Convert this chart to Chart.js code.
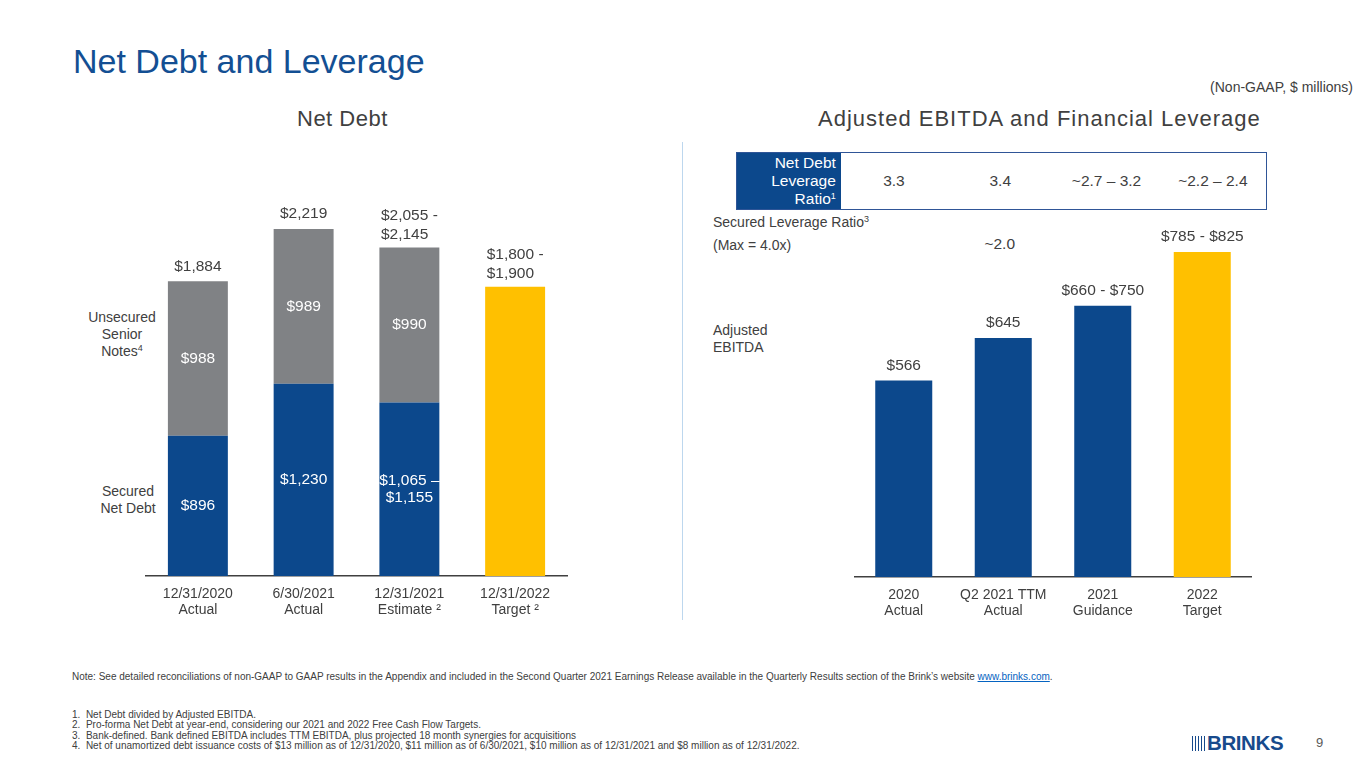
<!DOCTYPE html>
<html lang="en">

<head>
    <meta charset="UTF-8">
    <title>Net Debt and Leverage</title>
    <script src="https://cdn.jsdelivr.net/npm/chart.js@4.4.1/dist/chart.umd.min.js"></script>
    <style>
        body {
            margin: 0;
            background: #fff;
            font-family: "Liberation Sans", Arial, sans-serif;
            color: #404040;
        }

        .slide {
            position: relative;
            width: 1365px;
            height: 768px;
            overflow: hidden;
        }

        .abs {
            position: absolute;
            white-space: nowrap;
        }

        .titulo {
            left: 73px;
            top: 41px;
            font-size: 34px;
            line-height: 40px;
            color: #134f93;
        }

        .subtitulo {
            top: 106px;
            font-size: 22px;
            line-height: 26px;
            color: #404040;
        }

        .lado {
            font-size: 14px;
            line-height: 17.2px;
        }

        sup {
            font-size: 9px;
            line-height: 0;
            vertical-align: 5px;
        }

        canvas {
            position: absolute;
        }

        #tabela {
            left: 736px;
            top: 152px;
            width: 531px;
            height: 58px;
            box-sizing: border-box;
            border: 1.5px solid #2f5597;
            display: flex;
        }

        #tabela .cab {
            width: 104px;
            background: #0c488c;
            color: #fff;
            font-size: 15.5px;
            line-height: 18.3px;
            text-align: right;
            padding-right: 5px;
            box-sizing: border-box;
            display: flex;
            flex-direction: column;
            justify-content: center;
        }

        #tabela .cel {
            width: 106.5px;
            text-align: center;
            font-size: 15.5px;
            line-height: 55px;
        }

        .notas {
            left: 72px;
            font-size: 10px;
            color: #404040;
        }

        .notas a {
            color: #0563c1;
        }
    </style>
</head>

<body>
    <div class="slide">
        <div class="abs titulo">Net Debt and Leverage</div>
        <div class="abs" style="right:12px; top:78px; font-size:14px; line-height:18px;">(Non-GAAP, $ millions)</div>

        <div class="abs subtitulo" style="left:297px; letter-spacing:0.5px;">Net Debt</div>
        <div class="abs subtitulo" style="left:818px; letter-spacing:1px;">Adjusted EBITDA and Financial Leverage</div>

        <div class="abs lado" style="left:72px; top:309px; width:100px; text-align:center;">Unsecured<br>Senior<br>Notes<sup>4</sup></div>
        <div class="abs lado" style="left:78px; top:483px; width:100px; text-align:center;">Secured<br>Net Debt</div>

        <div class="abs" style="left:682px; top:142px; width:1px; height:478px; background:#bdd7ee;"></div>

        <div class="abs" id="tabela">
            <div class="cab"><div>Net Debt</div><div>Leverage</div><div>Ratio<sup>1</sup></div></div>
        </div>

        <div class="abs lado" style="left:713px; top:213px; line-height:18px;">Secured Leverage Ratio<sup>3</sup></div>
        <div class="abs lado" style="left:713px; top:236px; line-height:18px;">(Max = 4.0x)</div>
        <div id="linhaSecured"></div>

        <div class="abs lado" style="left:713px; top:322px;">Adjusted<br>EBITDA</div>

        <canvas id="chartNetDebt" width="423" height="441" style="left:145px; top:185px;"></canvas>
        <canvas id="chartEbitda" width="398" height="426" style="left:854px; top:201px;"></canvas>

        <div class="abs notas" style="top:671px; line-height:12px;">Note: See detailed reconciliations of non-GAAP to GAAP results in the Appendix and included in the Second Quarter 2021 Earnings Release available in the Quarterly Results section of the Brink’s website <a href="#">www.brinks.com</a>.</div>

        <div class="abs notas" style="top:710px; line-height:10.3px;">
            <div>1.&nbsp;&nbsp;Net Debt divided by Adjusted EBITDA.</div>
            <div>2.&nbsp;&nbsp;Pro-forma Net Debt at year-end, considering our 2021 and 2022 Free Cash Flow Targets.</div>
            <div>3.&nbsp;&nbsp;Bank-defined. Bank defined EBITDA includes TTM EBITDA, plus projected 18 month synergies for acquisitions</div>
            <div>4.&nbsp;&nbsp;Net of unamortized debt issuance costs of $13 million as of 12/31/2020, $11 million as of 6/30/2021, $10 million as of 12/31/2021 and $8 million as of 12/31/2022.</div>
        </div>

        <div class="abs" style="left:1192px; top:736px; width:15px; height:15px; background:repeating-linear-gradient(90deg, #174a8c 0 1.5px, transparent 1.5px 3px);"></div>
        <div class="abs" style="left:1207px; top:731px; font-size:20.5px; line-height:24px; font-weight:bold; letter-spacing:-0.4px; color:#174a8c;">BRINKS</div>
        <div class="abs" style="left:1316px; top:735px; font-size:13px; line-height:16px; color:#595959;">9</div>
    </div>
</body>

</html>

<script>
    // Net Debt (esquerda)
    var netDebtCategorias = [['12/31/2020', 'Actual'], ['6/30/2021', 'Actual'], ['12/31/2021', 'Estimate ²'], ['12/31/2022', 'Target ²']];
    var securedNetDebt = [896, 1230, 1110, null];
    var unsecuredNotes = [988, 989, 990, null];
    var netDebtTarget = [null, null, null, 1850];
    var securedLabels = ['$896', '$1,230', ['$1,065 –', '$1,155'], null];
    var unsecuredLabels = ['$988', '$989', '$990', null];
    var totalLabels = ['$1,884', '$2,219', ['$2,055 -', '$2,145'], ['$1,800 -', '$1,900']];

    // Adjusted EBITDA (direita)
    var ebitdaCategorias = [['2020', 'Actual'], ['Q2 2021 TTM', 'Actual'], ['2021', 'Guidance'], ['2022', 'Target']];
    var adjustedEbitda = [566, 645, 705, 805];
    var ebitdaLabels = ['$566', '$645', '$660 - $750', '$785 - $825'];
    var leverageRatio = ['3.3', '3.4', '~2.7 – 3.2', '~2.2 – 2.4'];
    var securedLeverage = [null, '~2.0', null, null];

    var azul = '#0c488c';
    var cinza = '#808285';
    var amarelo = '#ffc000';
    var fonte = '"Liberation Sans", Arial, sans-serif';

    // escreve os valores em cima e dentro das barras
    const rotulos = {
        id: 'rotulos',
        afterDatasetsDraw(chart, args, opts) {
            const ctx = chart.ctx;
            ctx.save();
            ctx.font = '15.5px ' + fonte;
            ctx.textBaseline = 'middle';

            (opts.dentro || []).forEach(function (labels, di) {
                if (!labels) return;
                chart.getDatasetMeta(di).data.forEach(function (bar, i) {
                    if (!labels[i]) return;
                    var linhas = [].concat(labels[i]);
                    var cy = (bar.y + bar.base) / 2;
                    ctx.fillStyle = '#ffffff';
                    ctx.textAlign = 'center';
                    linhas.forEach(function (l, k) {
                        ctx.fillText(l, bar.x, cy + (k - (linhas.length - 1) / 2) * 17.6);
                    });
                });
            });

            (opts.topo || []).forEach(function (txt, i) {
                if (!txt) return;
                var topo = null, x = 0;
                chart.data.datasets.forEach(function (ds, di) {
                    if (ds.data[i] == null) return;
                    var bar = chart.getDatasetMeta(di).data[i];
                    if (topo === null || bar.y < topo) { topo = bar.y; x = bar.x; }
                });
                ctx.fillStyle = '#404040';
                if (Array.isArray(txt)) {
                    var largura = Math.max.apply(null, txt.map(function (l) { return ctx.measureText(l).width; }));
                    ctx.textAlign = 'left';
                    txt.forEach(function (l, k) {
                        ctx.fillText(l, x - largura / 2, topo - 13 - (txt.length - 1 - k) * 18.5);
                    });
                } else {
                    ctx.textAlign = 'center';
                    ctx.fillText(txt, x, topo - 15);
                }
            });
            ctx.restore();
        }
    };

    function eixoX() {
        return {
            stacked: true,
            grid: { display: false },
            border: { display: true, color: '#404040', width: 1.5 },
            ticks: {
                color: '#404040',
                padding: 2,
                font: { family: fonte, size: 14, lineHeight: 1.15 },
                maxRotation: 0,
                autoSkip: false
            },
            afterFit: function (scale) { scale.height = 50; }
        };
    }

    function carregarGraficoNetDebt() {
        new Chart(document.getElementById('chartNetDebt'), {
            type: 'bar',
            data: {
                labels: netDebtCategorias,
                datasets: [
                    { label: 'Secured Net Debt', data: securedNetDebt, backgroundColor: azul },
                    { label: 'Unsecured Senior Notes', data: unsecuredNotes, backgroundColor: cinza },
                    { label: 'Target', data: netDebtTarget, backgroundColor: amarelo }
                ]
            },
            options: {
                responsive: false,
                animation: false,
                barPercentage: 0.567,
                categoryPercentage: 1,
                layout: { padding: 0 },
                scales: {
                    x: eixoX(),
                    y: { stacked: true, display: false, min: 0, max: 2500 }
                },
                plugins: {
                    legend: { display: false },
                    tooltip: { enabled: false },
                    rotulos: { dentro: [securedLabels, unsecuredLabels, null], topo: totalLabels }
                }
            },
            plugins: [rotulos]
        });
    }

    function carregarGraficoEbitda() {
        new Chart(document.getElementById('chartEbitda'), {
            type: 'bar',
            data: {
                labels: ebitdaCategorias,
                datasets: [{
                    label: 'Adjusted EBITDA',
                    data: adjustedEbitda,
                    backgroundColor: [azul, azul, azul, amarelo]
                }]
            },
            options: {
                responsive: false,
                animation: false,
                barPercentage: 0.573,
                categoryPercentage: 1,
                layout: { padding: 0 },
                scales: {
                    x: eixoX(),
                    y: { display: false, min: 200, max: 900 }
                },
                plugins: {
                    legend: { display: false },
                    tooltip: { enabled: false },
                    rotulos: { topo: ebitdaLabels }
                }
            },
            plugins: [rotulos]
        });
    }

    function montarTabela() {
        var tabela = document.getElementById('tabela');
        leverageRatio.forEach(function (v) {
            var cel = document.createElement('div');
            cel.className = 'cel';
            cel.textContent = v;
            tabela.appendChild(cel);
        });
        // linha do secured leverage, mesmas colunas da tabela
        var linha = document.getElementById('linhaSecured');
        securedLeverage.forEach(function (v, i) {
            if (!v) return;
            var d = document.createElement('div');
            d.className = 'abs';
            d.style.left = (840 + i * 106.5) + 'px';
            d.style.width = '106.5px';
            d.style.textAlign = 'center';
            d.style.top = '234px';
            d.style.fontSize = '15.5px';
            d.style.lineHeight = '20px';
            d.textContent = v;
            linha.appendChild(d);
        });
    }

    montarTabela();
    carregarGraficoNetDebt();
    carregarGraficoEbitda();
</script>
